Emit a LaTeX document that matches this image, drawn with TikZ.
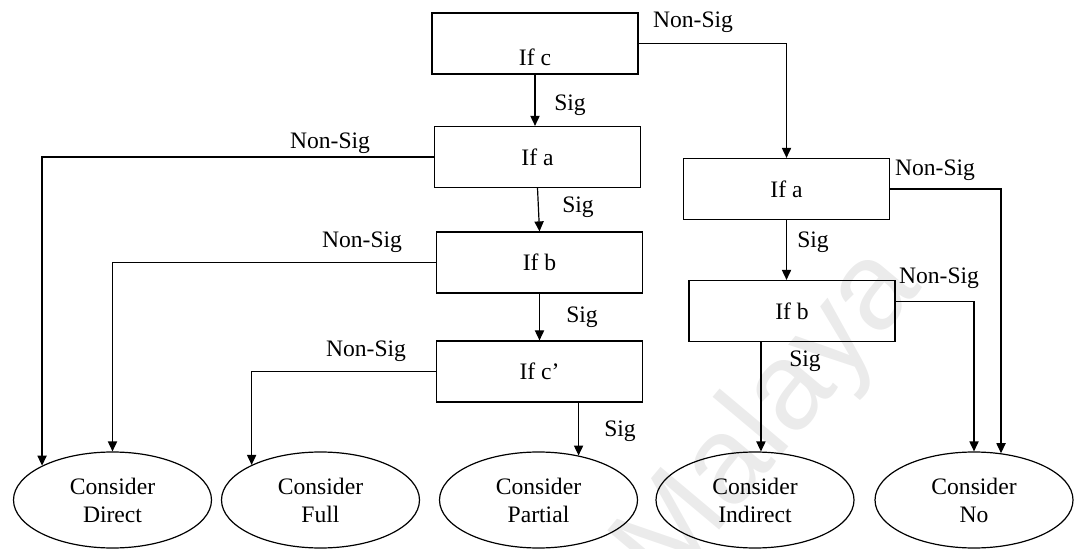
\documentclass[tikz,border=0pt]{standalone}
\usepackage{fontspec}
\setmainfont{Liberation Serif}
\newfontfamily\wmfont{Liberation Sans}
\usetikzlibrary{arrows.meta,calc,shapes.geometric}
\begin{document}
\begin{tikzpicture}[x=0.5pt,y=-0.5pt,
  every node/.style={font=\fontsize{11.8}{14}\selectfont},
  decision/.style={draw, rectangle, line width=0.6pt, minimum width=103pt,
    minimum height=30.5pt, inner sep=0pt},
  outcome/.style={draw, ellipse, line width=0.6pt, minimum width=99pt,
    minimum height=48pt, inner sep=0pt, align=center},
  flow/.style={line width=0.6pt, -{Triangle[length=5pt,width=4.6pt]}},
  tag/.style={inner sep=0pt},
  watermark/.style={rotate=50, text=black!8, inner sep=0pt,
    font=\wmfont\fontsize{62}{62}\selectfont}
]
\useasboundingbox (0,0) rectangle (1074,549);

% faint background watermark
\node[watermark] (wm) at (770,420) {Malaya};

% decision boxes
\node[decision, label={[tag, yshift=-6.75pt]center:If~c}] (ifc) at (535,43.5) {};
\node[decision] (ifa)  at (537.5,157) {If~a};
\node[decision] (ifb)  at (539.5,262.5) {If~b};
\node[decision] (ifcp) at (539.5,371.5) {If~c’};
\node[decision] (ifa2) at (786.5,189) {If~a};
\node[decision] (ifb2) at (792,311) {If~b};

% outcomes
\node[outcome] (direct)   at (112.5,500) {Consider\\Direct};
\node[outcome] (full)     at (320.5,500) {Consider\\Full};
\node[outcome] (partial)  at (538.5,500) {Consider\\Partial};
\node[outcome] (indirect) at (755,500)   {Consider\\Indirect};
\node[outcome] (no)       at (974,500)   {Consider\\No};

% connectors
\draw[flow] (ifc.south) -- (ifc.south |- ifa.north);
\draw[flow] (ifc.east) -| (ifa2.north);
\draw[flow] (ifa.south) -- (ifb.north);
\draw[flow] (ifb.south) -- (ifcp.north);
\draw[flow] (ifcp.south -| partial.48) -- (partial.48);
\draw[flow] (ifa.west) -| (direct.154.4);
\draw[flow] (ifb.west) -| (direct.north);
\draw[flow] (ifcp.west) -| (full.153.8);
\draw[flow] (ifa2.south) -- (ifa2.south |- ifb2.north);
\draw[flow] (ifa2.east) -| (no.60.7);
\draw[flow] ($(ifb2.north east)!0.35!(ifb2.south east)$) -| (no.north);
\draw[flow] (ifb2.south -| indirect.83.4) -- (indirect.83.4);

% connector labels
\node[tag] (ns1) at (693,22)  {Non-Sig};
\node[tag] (s1)  at (570,105) {Sig};
\node[tag] (ns2) at (330,143) {Non-Sig};
\node[tag] (s2)  at (578,207) {Sig};
\node[tag] (ns3) at (362,242) {Non-Sig};
\node[tag] (s3)  at (582,317) {Sig};
\node[tag] (ns4) at (366,351) {Non-Sig};
\node[tag] (s4)  at (620,431) {Sig};
\node[tag] (ns5) at (935,170) {Non-Sig};
\node[tag] (s5)  at (813,242) {Sig};
\node[tag] (ns6) at (939,278) {Non-Sig};
\node[tag] (s6)  at (805,361) {Sig};
\end{tikzpicture}
\end{document}
